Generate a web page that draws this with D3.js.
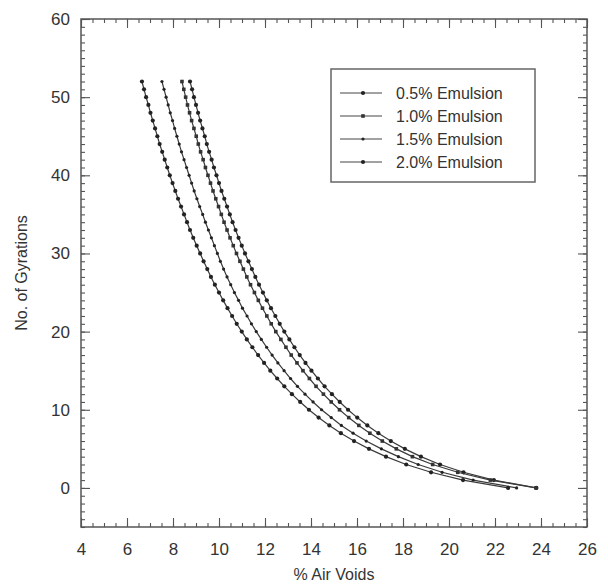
<!DOCTYPE html>
<html>
<head>
<meta charset="utf-8">
<script src="https://cdn.jsdelivr.net/npm/d3@7"></script>
<style>
  body { margin: 0; background: #fff; }
  text { font-family: "Liberation Sans", Arial, Helvetica, sans-serif; fill: #333; }
</style>
</head>
<body>
<div id="app"></div>
<script>
// gyratory compaction curves, air voids vs number of gyrations

const gyrations = [0, 1, 2, 3, 4, 5, 6, 7, 8, 9, 10, 11, 12, 13, 14, 15, 16, 17, 18, 19,
  20, 21, 22, 23, 24, 25, 26, 27, 28, 29, 30, 31, 32, 33, 34, 35, 36, 37, 38, 39,
  40, 41, 42, 43, 44, 45, 46, 47, 48, 49, 50, 51, 52];

// % air voids, one value per gyration
const voids05 = [23.80, 21.95, 20.63, 19.61, 18.78, 18.08, 17.47, 16.93, 16.45, 16.01,
  15.61, 15.25, 14.91, 14.59, 14.30, 14.02, 13.76, 13.51, 13.28, 13.06,
  12.84, 12.64, 12.45, 12.26, 12.08, 11.91, 11.74, 11.58, 11.43, 11.28,
  11.13, 10.99, 10.85, 10.72, 10.59, 10.47, 10.35, 10.23, 10.11, 10.00,
  9.89, 9.78, 9.68, 9.57, 9.47, 9.38, 9.28, 9.18, 9.09, 9.00,
  8.91, 8.83, 8.74];
const voids10 = [23.78, 21.80, 20.38, 19.29, 18.41, 17.71, 17.10, 16.56, 16.08, 15.64,
  15.24, 14.88, 14.54, 14.22, 13.93, 13.65, 13.39, 13.14, 12.91, 12.69,
  12.47, 12.27, 12.08, 11.89, 11.71, 11.54, 11.37, 11.21, 11.06, 10.91,
  10.76, 10.62, 10.48, 10.35, 10.22, 10.10, 9.98, 9.86, 9.74, 9.63,
  9.52, 9.41, 9.31, 9.20, 9.10, 9.01, 8.91, 8.81, 8.72, 8.63,
  8.55, 8.47, 8.39];
const voids15 = [22.94, 21.05, 19.70, 18.66, 17.80, 17.06, 16.40, 15.83, 15.32, 14.88,
  14.46, 14.09, 13.74, 13.41, 13.11, 12.83, 12.56, 12.31, 12.07, 11.84,
  11.62, 11.41, 11.22, 11.02, 10.85, 10.67, 10.51, 10.35, 10.20, 10.06,
  9.93, 9.80, 9.67, 9.54, 9.41, 9.29, 9.16, 9.04, 8.92, 8.81,
  8.70, 8.59, 8.48, 8.37, 8.27, 8.17, 8.07, 7.98, 7.88, 7.79,
  7.70, 7.61, 7.52];
const voids20 = [22.57, 20.61, 19.22, 18.14, 17.26, 16.52, 15.87, 15.30, 14.80, 14.33,
  13.91, 13.53, 13.17, 12.84, 12.53, 12.23, 11.96, 11.70, 11.45, 11.21,
  10.99, 10.77, 10.57, 10.37, 10.18, 10.00, 9.82, 9.65, 9.49, 9.33,
  9.18, 9.03, 8.88, 8.74, 8.61, 8.48, 8.35, 8.22, 8.10, 7.98,
  7.86, 7.75, 7.64, 7.53, 7.42, 7.32, 7.22, 7.12, 7.02, 6.93,
  6.83, 6.74, 6.65];

const seriesNames = ["0.5% Emulsion", "1.0% Emulsion", "1.5% Emulsion", "2.0% Emulsion"];
const xTicks = [4, 6, 8, 10, 12, 14, 16, 18, 20, 22, 24, 26];
const yTicks = [0, 10, 20, 30, 40, 50, 60];

function drawStuff() {
  const series = [voids05, voids10, voids15, voids20].map((v, i) => ({
    name: seriesNames[i],
    points: gyrations.map((g, j) => ({ voids: v[j], gyr: g }))
  }));
  // marker look per series
  const markers = [
    { shape: "circle", r: 2.1 },
    { shape: "square", r: 1.8 },
    { shape: "circle", r: 1.6 },
    { shape: "circle", r: 2.1 }
  ];

  // 1. dimensions
  let dimensions = {
    width: 608,
    height: 586,
    margin: { top: 19, right: 21, bottom: 59, left: 81 }
  };
  dimensions.boundedWidth =
    dimensions.width - dimensions.margin.left - dimensions.margin.right;
  dimensions.boundedHeight =
    dimensions.height - dimensions.margin.top - dimensions.margin.bottom;

  // 2. canvas
  const wrapper = d3
    .select("#app")
    .append("svg")
    .attr("width", dimensions.width)
    .attr("height", dimensions.height);

  const bounds = wrapper
    .append("g")
    .attr("transform", `translate(${dimensions.margin.left},${dimensions.margin.top})`);

  // 3. scales
  const xScale = d3.scaleLinear().domain([4, 26]).range([0, dimensions.boundedWidth]);
  const yScale = d3.scaleLinear().domain([-5, 60]).range([dimensions.boundedHeight, 0]);

  // 4. axes - ticks point inward on all four sides
  const xMinor = d3.range(4, 26.01, 0.5);
  const yMinor = d3.range(-5, 60.01, 1);

  const styleAxis = (g) => {
    g.select(".domain").remove();
    g.selectAll("line").attr("stroke", "#555").attr("stroke-width", 1.1);
    g.selectAll("text").attr("font-size", 17).attr("fill", "#333");
  };

  bounds.append("g")
    .attr("transform", `translate(0,${dimensions.boundedHeight})`)
    .call(d3.axisBottom(xScale).tickValues(xMinor).tickSize(-4).tickFormat(""))
    .call(styleAxis);
  bounds.append("g")
    .attr("transform", `translate(0,${dimensions.boundedHeight})`)
    .call(d3.axisBottom(xScale).tickValues(xTicks).tickSize(-9).tickPadding(16))
    .call(styleAxis);
  bounds.append("g")
    .call(d3.axisTop(xScale).tickValues(xMinor).tickSize(-4).tickFormat(""))
    .call(styleAxis);
  bounds.append("g")
    .call(d3.axisTop(xScale).tickValues(xTicks).tickSize(-9).tickFormat(""))
    .call(styleAxis);

  bounds.append("g")
    .call(d3.axisLeft(yScale).tickValues(yMinor).tickSize(-4).tickFormat(""))
    .call(styleAxis);
  bounds.append("g")
    .call(d3.axisLeft(yScale).tickValues(yTicks).tickSize(-9).tickPadding(11))
    .call(styleAxis);
  bounds.append("g")
    .attr("transform", `translate(${dimensions.boundedWidth},0)`)
    .call(d3.axisRight(yScale).tickValues(yMinor).tickSize(-4).tickFormat(""))
    .call(styleAxis);
  bounds.append("g")
    .attr("transform", `translate(${dimensions.boundedWidth},0)`)
    .call(d3.axisRight(yScale).tickValues(yTicks).tickSize(-9).tickFormat(""))
    .call(styleAxis);

  // frame
  bounds.append("rect")
    .attr("width", dimensions.boundedWidth)
    .attr("height", dimensions.boundedHeight)
    .attr("fill", "none")
    .attr("stroke", "#555")
    .attr("stroke-width", 1.5);

  // 5. data
  const line = d3.line()
    .x((d) => xScale(d.voids))
    .y((d) => yScale(d.gyr));

  const groups = bounds.selectAll(".series")
    .data(series)
    .join("g")
    .attr("class", "series");

  groups.append("path")
    .attr("d", (d) => line(d.points))
    .attr("fill", "none")
    .attr("stroke", "#3a3a3a")
    .attr("stroke-width", 1.2);

  groups.each(function (d, i) {
    const m = markers[i];
    const g = d3.select(this);
    if (m.shape === "square") {
      g.selectAll("rect")
        .data(d.points)
        .join("rect")
        .attr("x", (p) => xScale(p.voids) - m.r)
        .attr("y", (p) => yScale(p.gyr) - m.r)
        .attr("width", m.r * 2)
        .attr("height", m.r * 2)
        .attr("fill", "#333");
    } else {
      g.selectAll("circle")
        .data(d.points)
        .join("circle")
        .attr("cx", (p) => xScale(p.voids))
        .attr("cy", (p) => yScale(p.gyr))
        .attr("r", m.r)
        .attr("fill", "#222");
    }
  });

  // 6. legend
  const legend = wrapper.append("g").attr("transform", "translate(331,69)");
  legend.append("rect")
    .attr("width", 204)
    .attr("height", 113)
    .attr("fill", "#fff")
    .attr("stroke", "#666")
    .attr("stroke-width", 1.5);

  const rows = legend.selectAll(".row")
    .data(series)
    .join("g")
    .attr("class", "row")
    .attr("transform", (d, i) => `translate(0,${24 + i * 23})`);

  rows.append("line")
    .attr("x1", 9).attr("x2", 51)
    .attr("stroke", "#444").attr("stroke-width", 1);
  rows.each(function (d, i) {
    const m = markers[i];
    if (m.shape === "square") {
      d3.select(this).append("rect")
        .attr("x", 32 - m.r).attr("y", -m.r)
        .attr("width", m.r * 2).attr("height", m.r * 2)
        .attr("fill", "#333");
    } else {
      d3.select(this).append("circle")
        .attr("cx", 32).attr("r", m.r).attr("fill", "#222");
    }
  });
  rows.append("text")
    .attr("x", 65)
    .attr("dy", "0.35em")
    .attr("font-size", 16)
    .text((d) => d.name);

  // 7. axis titles
  wrapper.append("text")
    .attr("x", dimensions.margin.left + dimensions.boundedWidth / 2)
    .attr("y", 580)
    .attr("text-anchor", "middle")
    .attr("font-size", 16)
    .text("% Air Voids");

  wrapper.append("text")
    .attr("transform", `translate(27,${dimensions.margin.top + dimensions.boundedHeight / 2}) rotate(-90)`)
    .attr("text-anchor", "middle")
    .attr("font-size", 16)
    .text("No. of Gyrations");
}

drawStuff();
</script>
</body>
</html>
